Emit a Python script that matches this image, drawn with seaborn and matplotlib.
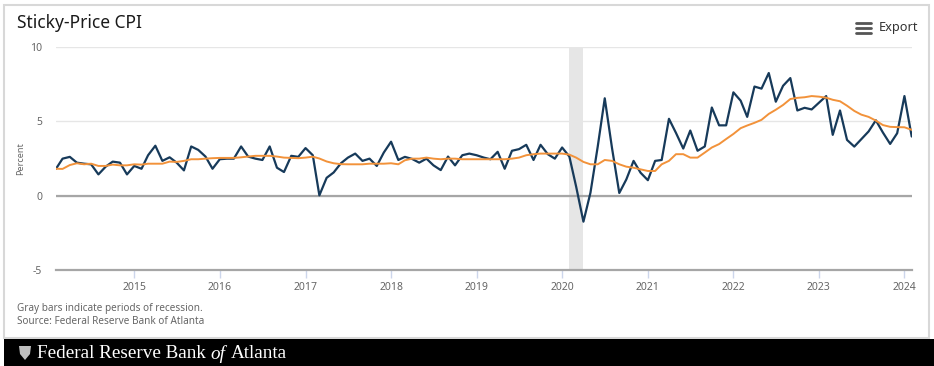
import numpy as np
import pandas as pd
import matplotlib.pyplot as plt
import matplotlib.dates as mdates
from matplotlib.patches import Rectangle, Polygon
from matplotlib.lines import Line2D
import seaborn as sns

# monthly series, Feb 2014 .. Feb 2024
start_month = "2014-02-01"
one_month = [
    1.81, 2.49, 2.61, 2.22, 2.15, 2.11, 1.43, 1.95, 2.29, 2.22, 1.43, 2.00,
    1.81, 2.72, 3.36, 2.34, 2.58, 2.22, 1.70, 3.31, 3.08, 2.63, 1.81, 2.45,
    2.49, 2.49, 3.31, 2.63, 2.49, 2.40, 3.31, 1.88, 1.59, 2.68, 2.61, 3.20,
    2.72, 0.02, 1.20, 1.56, 2.18, 2.56, 2.83, 2.34, 2.49, 2.00, 2.90, 3.63,
    2.40, 2.61, 2.47, 2.22, 2.49, 2.04, 1.72, 2.63, 2.04, 2.72, 2.83, 2.72,
    2.56, 2.45, 2.95, 1.81, 3.02, 3.13, 3.42, 2.40, 3.42, 2.79, 2.49, 3.24,
    2.63, 0.60, -1.75, 0.20, 3.30, 6.55, 3.20, 0.18, 1.09, 2.34, 1.54, 1.04,
    2.34, 2.40, 5.17, 4.22, 3.17, 4.38, 3.02, 3.31, 5.93, 4.73, 4.73, 6.95,
    6.39, 5.30, 7.34, 7.20, 8.25, 6.32, 7.39, 7.91, 5.73, 5.91, 5.80, 6.25,
    6.70, 4.09, 5.73, 3.75, 3.30, 3.80, 4.32, 5.07, 4.25, 3.48, 4.20, 6.70,
    3.98,
]
twelve_month = [
    1.81, 1.80, 2.06, 2.18, 2.11, 2.15, 2.00, 2.00, 2.09, 2.04, 2.04, 2.11,
    2.09, 2.15, 2.15, 2.15, 2.29, 2.27, 2.34, 2.45, 2.45, 2.49, 2.52, 2.54,
    2.54, 2.54, 2.58, 2.63, 2.68, 2.68, 2.68, 2.63, 2.56, 2.54, 2.52, 2.56,
    2.62, 2.50, 2.30, 2.18, 2.12, 2.11, 2.11, 2.11, 2.15, 2.15, 2.15, 2.18,
    2.11, 2.38, 2.49, 2.49, 2.56, 2.49, 2.45, 2.49, 2.49, 2.45, 2.45, 2.45,
    2.45, 2.45, 2.45, 2.45, 2.49, 2.56, 2.72, 2.79, 2.83, 2.83, 2.83, 2.83,
    2.76, 2.56, 2.27, 2.11, 2.11, 2.40, 2.34, 2.11, 1.95, 1.88, 1.77, 1.66,
    1.66, 2.11, 2.34, 2.79, 2.79, 2.56, 2.56, 2.90, 3.24, 3.47, 3.81, 4.15,
    4.54, 4.72, 4.90, 5.10, 5.50, 5.78, 6.10, 6.50, 6.58, 6.62, 6.70, 6.66,
    6.59, 6.45, 6.35, 6.05, 5.70, 5.45, 5.30, 5.05, 4.75, 4.63, 4.61, 4.60,
    4.43,
]
recession = ("2020-02-01", "2020-04-01")
y_ticks = [-5, 0, 5, 10]
y_tick_labels = ["-5", "0", "5", "10"]

dates = pd.date_range(start_month, periods=len(one_month), freq="MS")
df = pd.DataFrame({"date": dates, "one_month": one_month, "twelve_month": twelve_month})

sns.set_theme(style="white")
plt.rcParams["font.family"] = ["Noto Sans", "DejaVu Sans"]

W, H = 934, 366


def fx(px):
    return px / W


def fy(py):
    return 1 - py / H


fig = plt.figure(figsize=(W / 100, H / 100), dpi=100)
fig.patch.set_facecolor("white")

# card border and footer band
fig.add_artist(Rectangle((fx(4), fy(338)), fx(929) - fx(4), fy(5) - fy(338),
                         transform=fig.transFigure, fill=False, edgecolor="#d8d8d8", lw=1.5))
fig.add_artist(Rectangle((fx(4), 0), fx(934) - fx(4), fy(339),
                         transform=fig.transFigure, facecolor="black", edgecolor="none"))

ax = fig.add_axes([fx(56), fy(270), (911.7 - 56) / W, (270 - 47) / H])
ax.axvspan(pd.Timestamp(recession[0]), pd.Timestamp(recession[1]), color="#e6e6e6", lw=0, zorder=0)
sns.lineplot(data=df, x="date", y="one_month", color="#173a5a", lw=1.6, ax=ax, zorder=3)
sns.lineplot(data=df, x="date", y="twelve_month", color="#f2923a", lw=1.4, ax=ax, zorder=4)

ax.set_xlim(dates[0], dates[-1])
ax.set_ylim(-5, 10)
ax.set_yticks(y_ticks)
ax.set_yticklabels(y_tick_labels)
ax.yaxis.grid(True, color="#e6e6e6", lw=1)
ax.axhline(0, color="#a6a6a6", lw=1.6, zorder=2)
for s in ["top", "right", "left"]:
    ax.spines[s].set_visible(False)
ax.spines["bottom"].set_color("#a6a6a6")
ax.spines["bottom"].set_linewidth(1.6)

ax.xaxis.set_major_locator(mdates.YearLocator())
ax.xaxis.set_major_formatter(mdates.DateFormatter("%Y"))
ax.tick_params(axis="x", length=6, width=1, color="#ccd6eb", labelcolor="#666666", labelsize=7.5, pad=3, bottom=True)
ax.tick_params(axis="y", length=0, labelcolor="#666666", labelsize=7.5, pad=10)
ax.set_xlabel("")
ax.set_ylabel("Percent", fontsize=6.5, color="#666666")
ax.yaxis.set_label_coords((25 - 56) / 855.7, 0.5)

# header
fig.text(fx(17), fy(23), "Sticky-Price CPI", fontsize=12.5, color="#1a1a1a", va="center", ha="left")
fig.text(fx(879), fy(28), "Export", fontsize=9.2, color="#333333", va="center", ha="left")
for yy in (22.5, 27.5, 32.5):
    fig.add_artist(Line2D([fx(856), fx(871)], [fy(yy), fy(yy)], transform=fig.transFigure,
                          color="#555555", lw=2.0))

# footnotes
fig.text(fx(17), fy(308), "Gray bars indicate periods of recession.", fontsize=7.2, color="#666666", va="center")
fig.text(fx(17), fy(322), "Source: Federal Reserve Bank of Atlanta", fontsize=7.2, color="#666666", va="center")

# footer band logo + name
fig.add_artist(Polygon([(fx(19), fy(346)), (fx(31), fy(346)), (fx(30), fy(354)), (fx(25), fy(360)),
                        (fx(20), fy(354))], closed=True, transform=fig.transFigure,
                       facecolor="#bfbfbf", edgecolor="none"))
fig.canvas.draw()
renderer = fig.canvas.get_renderer()
x0 = 37
serif = ["Liberation Serif", "DejaVu Serif"]
for part, style in [("Federal Reserve Bank", "normal"), ("of", "italic"), ("Atlanta", "normal")]:
    t = fig.text(fx(x0), fy(354), part, fontsize=13.8, color="white", family=serif, style=style,
                 va="center", ha="left")
    bb = t.get_window_extent(renderer)
    x0 = bb.x1 + 4.8

fig.savefig("out.png", dpi=100)
